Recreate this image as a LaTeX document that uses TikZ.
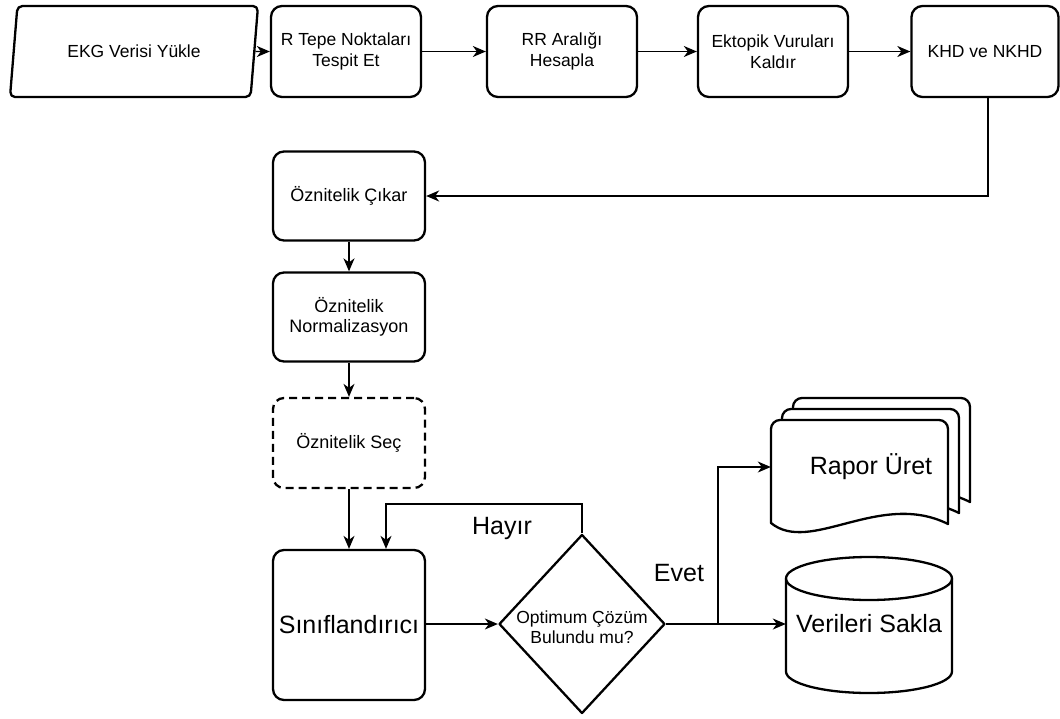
\documentclass[tikz,border=0pt]{standalone}
\usepackage{fontspec}
\setmainfont{Liberation Sans}
\usetikzlibrary{arrows.meta,shapes.geometric}
\begin{document}
\begin{tikzpicture}[x=1pt,y=-1pt,
  shapeline/.style={draw, line width=2.3pt, line join=round},
  stepbox/.style={shapeline, rounded corners=11pt, minimum width=150pt, minimum height=91pt,
    inner sep=0pt, align=center, font=\fontsize{17.5}{20.5}\selectfont},
  colbox/.style={stepbox, minimum width=152pt, minimum height=89pt, font=\fontsize{18}{20}\selectfont},
  conn/.style={line width=1.4pt, -{Stealth[length=13pt,width=11pt,inset=4pt]}},
  plainline/.style={line width=1.4pt},
  bigtext/.style={font=\fontsize{25}{25}\selectfont},
  smalltext/.style={font=\fontsize{17.5}{19.5}\selectfont, align=center, inner sep=0pt}
]
\useasboundingbox (0,0) rectangle (1060,718);

% top row
\node[shapeline, trapezium, trapezium left angle=60, trapezium right angle=120,
  trapezium stretches body, minimum width=248pt, minimum height=91pt, inner sep=0pt,
  rounded corners=5pt, font=\fontsize{17.5}{20.5}\selectfont] (load) at (134,51.5) {EKG Verisi Yükle};
\node[stepbox] (rpeak) at (346,51.5) {R Tepe Noktaları\\Tespit Et};
\node[stepbox] (rr) at (562,51.5) {RR Aralığı\\Hesapla};
\node[stepbox] (ectopic) at (773,51.5) {Ektopik Vuruları\\Kaldır};
\node[stepbox, minimum width=147pt] (khd) at (985,51.5) {KHD ve NKHD};

% left column
\node[colbox] (extract) at (349,196) {Öznitelik Çıkar};
\node[colbox] (norm) at (349,317) {Öznitelik\\Normalizasyon};
\node[colbox, dash pattern=on 8pt off 5pt, minimum height=90pt] (select) at (349,443) {Öznitelik Seç};
\node[shapeline, rounded corners=11pt, minimum width=152pt, minimum height=150pt, bigtext] (clf) at (349,625) {Sınıflandırıcı};

% decision
\node[shapeline, diamond, minimum width=166pt, minimum height=179pt, inner sep=0pt] (opt) at (582,624) {};
\node[smalltext] at (582,627) {Optimum Çözüm\\Bulundu mu?};
\node[bigtext, inner sep=0pt] (no) at (502,528) {Hayır};
\node[bigtext, inner sep=0pt] (yes) at (679,573) {Evet};

% report: stacked pages with wavy bottoms
\foreach \dx/\dy in {22/-22, 11/-11, 0/0} {
  \begin{scope}[shift={(\dx,\dy)}]
    \draw[shapeline, fill=white] (771,523) -- (771,429) arc[start angle=180, end angle=270, radius=9]
      -- (939,420) arc[start angle=270, end angle=360, radius=9] -- (948,524)
      .. controls (880,490) and (810,555) .. (771,523) -- cycle;
  \end{scope}
}
\node[minimum width=177pt, minimum height=100pt, inner sep=0pt] (report) at (859.5,467) {};
\node[bigtext, inner sep=0pt] at (871,467) {Rapor Üret};

% storage cylinder
\draw[shapeline, fill=white] (786,578.5) -- (786,671.5)
  arc[start angle=180, end angle=0, x radius=83, y radius=21.5] -- (952,578.5)
  arc[start angle=0, end angle=-180, x radius=83, y radius=21.5] -- cycle;
\draw[shapeline] (786,578.5) arc[start angle=180, end angle=0, x radius=83, y radius=21.5];
\node[minimum width=166pt, minimum height=90pt, inner sep=0pt, bigtext] (store) at (869,624) {Verileri Sakla};

% connectors
\draw[conn] (load.east) -- (rpeak.west);
\draw[conn] (rpeak) -- (rr);
\draw[conn] (rr) -- (ectopic);
\draw[conn] (ectopic) -- (khd);
\draw[conn] ([xshift=3pt]khd.south) |- (extract.east);
\draw[conn] (extract) -- (norm);
\draw[conn] (norm) -- (select);
\draw[conn] (select) -- (clf);
\draw[conn] (clf.east |- opt.west) -- (opt.west);
\coordinate (loop) at (386,504);
\draw[conn] (opt.north) |- (loop) -- (loop |- clf.north);
\coordinate (split) at (718,624);
\draw[plainline] (opt.east) -- (split);
\draw[conn] (split) |- (report.west);
\draw[conn] (split) -- (store.west);
\end{tikzpicture}
\end{document}
